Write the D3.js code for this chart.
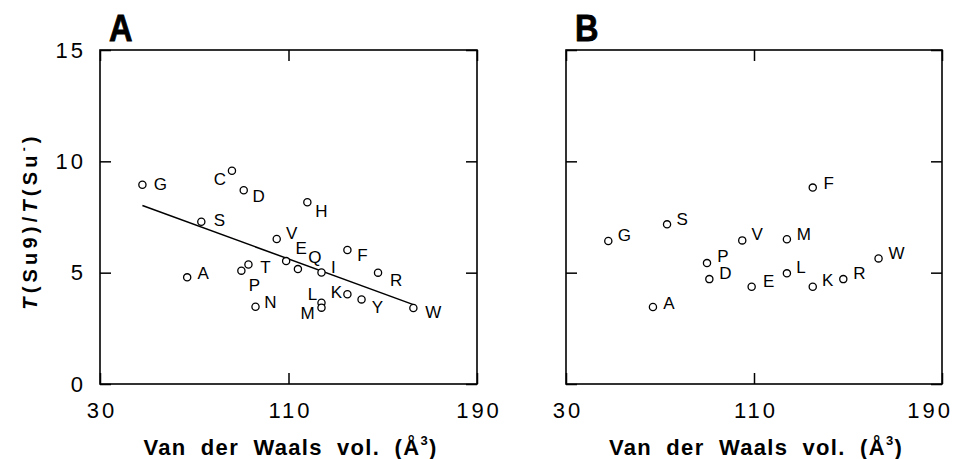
<!DOCTYPE html>
<html>
<head>
<meta charset="utf-8">
<script src="https://cdn.jsdelivr.net/npm/d3@7"></script>
<style>
  body { margin: 0; background: #fff; }
  svg { display: block; font-family: "Liberation Sans", Arial, sans-serif; }
</style>
</head>
<body>
<svg id="chart" width="961" height="459"></svg>
<script>
// panel A: readthrough ratio vs residue volume (Su9 suppressor)
const residuesA = ["G", "A", "S", "C", "P", "D", "T", "N", "V", "E", "Q", "H", "I", "L", "M", "K", "F", "Y", "R", "W"];
const volumeA   = [48, 67, 73, 86, 90, 91, 93, 96, 105, 109, 114, 118, 124, 124, 124, 135, 135, 141, 148, 163];
const ratioA    = [8.95, 4.79, 7.29, 9.58, 5.09, 8.70, 5.37, 3.47, 6.51, 5.52, 5.16, 8.16, 5.01, 3.65, 3.43, 4.03, 6.02, 3.80, 5.00, 3.41];

// panel B
const residuesB = ["G", "A", "S", "P", "D", "V", "E", "M", "L", "K", "F", "R", "W"];
const volumeB   = [48, 67, 73, 90, 91, 105, 109, 124, 124, 135, 135, 148, 163];
const ratioB    = [6.42, 3.46, 7.17, 5.43, 4.71, 6.45, 4.37, 6.50, 4.97, 4.37, 8.82, 4.71, 5.64];

const xDomain = [30, 190];
const yDomain = [0, 15];
const xTicks = [30, 110, 190];
const yTicks = [0, 5, 10, 15];

// label placement (px from the circle centre), as in the original figure
const labelOffA = {
  G: [18, -1], A: [16, -4], S: [18, -2], C: [-12, 8], P: [13, 14], D: [15, 6],
  T: [17, 2], N: [15, -5], V: [15, -6], E: [15, -13], Q: [17, -12], H: [14, 9],
  I: [12, -6], L: [-9, -9], M: [-14, 5], K: [-11, -2], F: [15, 5], Y: [16, 7],
  R: [18, 7], W: [20, 4]
};
const labelOffB = {
  G: [16, -6], A: [16, -4], S: [15, -5], P: [16, -7], D: [16, -6], V: [15, -7],
  E: [17, -6], M: [17, -5], L: [14, -6], K: [15, -7], F: [16, -5], R: [16, -6],
  W: [18, -6]
};

const svg = d3.select("#chart");
const W = 961;
const plotTop = 50, plotBottom = 384, tick = 11;

// y-axis title, shared
const yTitle = svg.append("text")
  .attr("transform", `translate(37,${(plotTop + plotBottom) / 2 + 4}) rotate(-90)`)
  .attr("text-anchor", "middle")
  .attr("font-size", 20)
  .attr("font-weight", "bold")
  .attr("letter-spacing", 4.2);
yTitle.append("tspan").attr("font-style", "italic").text("T");
yTitle.append("tspan").text("(Su9)/");
yTitle.append("tspan").attr("font-style", "italic").text("T");
yTitle.append("tspan").text("(Su");
yTitle.append("tspan").attr("font-size", 12).attr("dy", -9).text("-");
yTitle.append("tspan").attr("dy", 9).text(")");

function panel(left, right, letter, names, vols, ratios, offs, showY, fit) {
  const x = d3.scaleLinear().domain(xDomain).range([left, right]);
  const y = d3.scaleLinear().domain(yDomain).range([plotBottom, plotTop]);
  const g = svg.append("g");

  // inward ticks on four sides
  const ax = (sel) => { sel.select(".domain").remove(); sel.selectAll(".tick line").attr("stroke-width", 1.5); };

  const xb = g.append("g").attr("transform", `translate(0,${plotBottom})`)
    .call(d3.axisBottom(x).tickValues(xTicks).tickSize(-tick).tickPadding(18).tickFormat(d3.format("d")))
    .call(ax);
  xb.selectAll("text").attr("font-size", 22).attr("letter-spacing", 3)
    .attr("font-family", "Liberation Sans, Arial, sans-serif").attr("fill", "#000").attr("dx", 1.5);
  // keep the last label inside the page, as the original did
  xb.selectAll("text").each(function () {
    const b = this.getBBox();
    const tx = +d3.select(this.parentNode).attr("transform").match(/translate\(([-\d.]+)/)[1];
    const overflow = tx + b.x + b.width - (W - 8);
    if (overflow > 0) d3.select(this).attr("dx", 1.5 - overflow);
  });

  g.append("g").attr("transform", `translate(0,${plotTop})`)
    .call(d3.axisTop(x).tickValues(xTicks).tickSize(-tick).tickFormat(""))
    .call(ax);

  const yl = g.append("g").attr("transform", `translate(${left},0)`)
    .call(d3.axisLeft(y).tickValues(yTicks).tickSize(-tick).tickPadding(14).tickFormat(showY ? d3.format("d") : ""))
    .call(ax);
  yl.selectAll("text").attr("font-size", 22).attr("letter-spacing", 3)
    .attr("font-family", "Liberation Sans, Arial, sans-serif").attr("fill", "#000");

  g.append("g").attr("transform", `translate(${right},0)`)
    .call(d3.axisRight(y).tickValues(yTicks).tickSize(-tick).tickFormat(""))
    .call(ax);

  g.append("rect")
    .attr("x", left).attr("y", plotTop)
    .attr("width", right - left).attr("height", plotBottom - plotTop)
    .attr("fill", "none").attr("stroke", "#000").attr("stroke-width", 1.6);

  // panel letter
  g.append("text")
    .attr("x", left + 9).attr("y", 41)
    .attr("font-size", 37).attr("font-weight", "bold")
    .attr("transform", `translate(${left + 9},0) scale(0.88,1) translate(${-(left + 9)},0)`)
    .attr("stroke", "#000").attr("stroke-width", 0.8)
    .text(letter);

  // x-axis title
  const xt = g.append("text")
    .attr("x", (left + right) / 2 + 2).attr("y", 455)
    .attr("text-anchor", "middle")
    .attr("font-size", 22).attr("font-weight", "bold")
    .attr("letter-spacing", 1.3).attr("word-spacing", 7);
  xt.append("tspan").text("Van der Waals vol. (Å");
  xt.append("tspan").attr("font-size", 13).attr("dy", -10).text("3");
  xt.append("tspan").attr("dy", 10).text(")");

  // least-squares fit drawn across the data range
  if (fit) {
    const mv = d3.mean(vols), mr = d3.mean(ratios);
    const slope = d3.sum(vols, (v, i) => (v - mv) * (ratios[i] - mr)) / d3.sum(vols, v => (v - mv) ** 2);
    const ends = d3.extent(vols);
    g.append("line")
      .attr("x1", x(ends[0])).attr("y1", y(mr + slope * (ends[0] - mv)))
      .attr("x2", x(ends[1])).attr("y2", y(mr + slope * (ends[1] - mv)))
      .attr("stroke", "#000").attr("stroke-width", 1.5);
  }

  const pts = names.map((n, i) => ({ n, v: vols[i], r: ratios[i] }));

  g.selectAll("circle.pt").data(pts).join("circle")
    .attr("class", "pt")
    .attr("cx", d => x(d.v)).attr("cy", d => y(d.r))
    .attr("r", 3.6)
    .attr("fill", "#fff").attr("stroke", "#000").attr("stroke-width", 1.3);

  g.selectAll("text.lab").data(pts).join("text")
    .attr("class", "lab")
    .attr("x", d => x(d.v) + offs[d.n][0])
    .attr("y", d => y(d.r) + offs[d.n][1])
    .attr("dy", "0.36em")
    .attr("text-anchor", "middle")
    .attr("font-size", 17)
    .text(d => d.n);
}

panel(100, 477, "A", residuesA, volumeA, ratioA, labelOffA, true, true);
panel(566, 942, "B", residuesB, volumeB, ratioB, labelOffB, false, false);
</script>
</body>
</html>
